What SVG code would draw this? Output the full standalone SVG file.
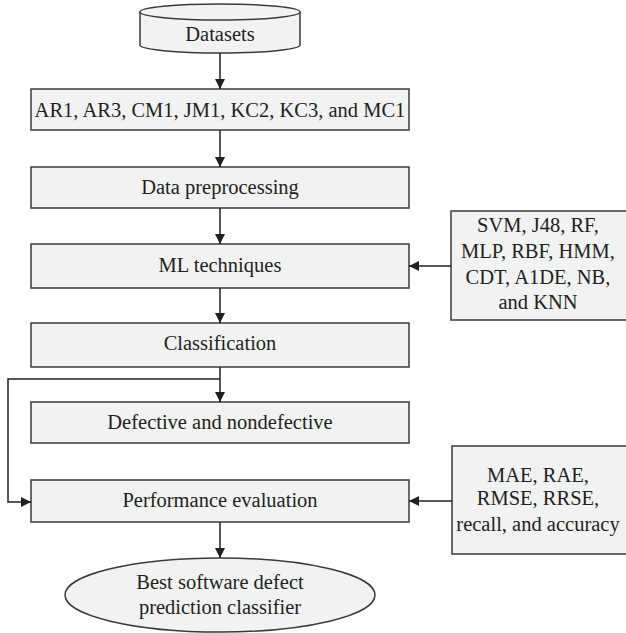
<svg xmlns="http://www.w3.org/2000/svg" width="626" height="633" viewBox="0 0 626 633">
<defs>
<marker id="ah" viewBox="0 0 10 10" refX="10" refY="5" markerWidth="10" markerHeight="10" markerUnits="userSpaceOnUse" orient="auto">
<path d="M0,0 L10,5 L0,10 Z" fill="#231f20"/>
</marker>
<style>
.box{fill:#f1f2f2;stroke:#3a3a3a;stroke-width:1.5}
.t{font-family:"Liberation Serif","Times New Roman",serif;font-size:20.5px;fill:#231f20;text-anchor:middle}
.c{fill:none;stroke:#231f20;stroke-width:1.5}
</style>
</defs>
<rect width="626" height="633" fill="#fff"/>
<g id="datasets">
<path class="box" d="M140,12 L140,45 A80,8 0 0 0 300,45 L300,12"/>
<ellipse class="box" cx="220" cy="12" rx="80" ry="8"/>
<text class="t" x="220" y="41">Datasets</text>
</g>
<g id="datalist">
<rect class="box" x="31" y="89" width="378" height="41"/>
<text class="t" x="220" y="117">AR1, AR3, CM1, JM1, KC2, KC3, and MC1</text>
</g>
<g id="preprocessing">
<rect class="box" x="31" y="167" width="378" height="41"/>
<text class="t" x="220" y="194">Data preprocessing</text>
</g>
<g id="ml">
<rect class="box" x="31" y="244" width="378" height="44"/>
<text class="t" x="220" y="272">ML techniques</text>
</g>
<g id="classification">
<rect class="box" x="31" y="323" width="378" height="44"/>
<text class="t" x="220" y="350">Classification</text>
</g>
<g id="defective">
<rect class="box" x="31" y="402" width="378" height="41"/>
<text class="t" x="220" y="429">Defective and nondefective</text>
</g>
<g id="performance">
<rect class="box" x="31" y="480" width="378" height="42"/>
<text class="t" x="220" y="507">Performance evaluation</text>
</g>
<g id="best">
<ellipse class="box" cx="220" cy="595" rx="155" ry="37"/>
<text class="t" x="220" y="589">Best software defect</text>
<text class="t" x="220" y="614">prediction classifier</text>
</g>
<g id="techniques">
<rect class="box" x="451" y="211" width="180" height="109"/>
<text class="t" x="538" y="232">SVM, J48, RF,</text>
<text class="t" x="538" y="258">MLP, RBF, HMM,</text>
<text class="t" x="538" y="284">CDT, A1DE, NB,</text>
<text class="t" x="538" y="309">and KNN</text>
</g>
<g id="metrics">
<rect class="box" x="452" y="446" width="180" height="108"/>
<text class="t" x="538" y="482">MAE, RAE,</text>
<text class="t" x="538" y="505">RMSE, RRSE,</text>
<text class="t" x="538" y="531">recall, and accuracy</text>
</g>
<g id="connectors">
<line class="c" x1="220" y1="53" x2="220" y2="89" marker-end="url(#ah)"/>
<line class="c" x1="220" y1="130" x2="220" y2="167" marker-end="url(#ah)"/>
<line class="c" x1="220" y1="208" x2="220" y2="244" marker-end="url(#ah)"/>
<line class="c" x1="220" y1="288" x2="220" y2="323" marker-end="url(#ah)"/>
<line class="c" x1="220" y1="367" x2="220" y2="402" marker-end="url(#ah)"/>
<polyline class="c" points="220,379 8,379 8,502 31,502" marker-end="url(#ah)"/>
<line class="c" x1="220" y1="522" x2="220" y2="558" marker-end="url(#ah)"/>
<line class="c" x1="451" y1="266" x2="409" y2="266" marker-end="url(#ah)"/>
<line class="c" x1="452" y1="501" x2="409" y2="501" marker-end="url(#ah)"/>
</g>
</svg>
